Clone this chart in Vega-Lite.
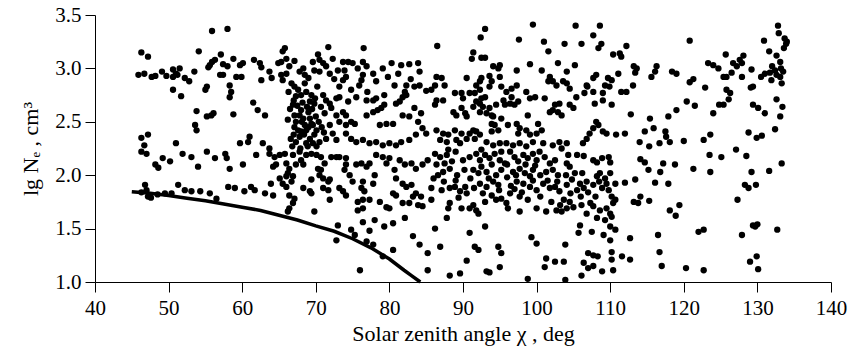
{
"$schema": "https://vega.github.io/schema/vega-lite/v6.json",
"width": 736, "height": 267,
"autosize": {"type": "none"},
"padding": {"left": 95, "top": 15, "right": 19, "bottom": 73},
"background": "white",
"config": {"view": {"stroke": null}},
"datasets": {
"curve": [{"x":45,"y":1.845},{"x":47.5,"y":1.83},{"x":50,"y":1.81},{"x":52.5,"y":1.785},{"x":55,"y":1.76},{"x":57.5,"y":1.73},{"x":60,"y":1.70},{"x":62.5,"y":1.67},{"x":65,"y":1.625},{"x":67.5,"y":1.58},{"x":70,"y":1.525},{"x":72.5,"y":1.475},{"x":75,"y":1.405},{"x":77.5,"y":1.32},{"x":80,"y":1.215},{"x":82,"y":1.11},{"x":83,"y":1.06},{"x":84.2,"y":1.0}],
"pts": [
{"x":55.9,"y":3.35},{"x":58.0,"y":3.37},{"x":46.3,"y":3.15},{"x":47.2,"y":3.11},{"x":54.1,"y":3.16},{"x":57.1,"y":3.13},{"x":55.6,"y":3.03},{"x":55.9,"y":3.06},{"x":56.3,"y":3.08},{"x":55.4,"y":3.01},{"x":57.4,"y":3.04},{"x":58.0,"y":3.02},{"x":45.9,"y":2.94},{"x":46.7,"y":2.95},{"x":47.7,"y":2.92},{"x":48.2,"y":2.93},{"x":49.1,"y":2.97},{"x":49.7,"y":2.93},{"x":50.6,"y":2.99},{"x":51.0,"y":2.95},{"x":51.5,"y":3.0},{"x":50.6,"y":2.92},{"x":51.2,"y":2.94},{"x":52.2,"y":2.91},{"x":52.8,"y":2.88},{"x":53.5,"y":2.97},{"x":57.0,"y":2.94},{"x":57.4,"y":2.94},{"x":55.2,"y":2.83},{"x":55.0,"y":2.80},{"x":50.6,"y":2.80},{"x":51.7,"y":2.74},{"x":53.8,"y":2.60},{"x":55.2,"y":2.55},{"x":55.8,"y":2.56},{"x":56.1,"y":2.58},{"x":53.6,"y":2.47},{"x":53.8,"y":2.42},{"x":46.3,"y":2.35},{"x":47.2,"y":2.38},{"x":46.7,"y":2.28},{"x":51.0,"y":2.30},
{"x":46.3,"y":2.22},{"x":47.0,"y":2.20},{"x":48.2,"y":2.10},{"x":48.6,"y":2.07},{"x":49.2,"y":2.16},{"x":50.2,"y":2.13},{"x":51.9,"y":2.20},{"x":53.1,"y":2.17},{"x":54.0,"y":2.08},{"x":55.2,"y":2.22},{"x":56.3,"y":2.16},{"x":57.7,"y":2.20},{"x":57.9,"y":2.16},
{"x":46.8,"y":1.91},{"x":47.0,"y":1.86},{"x":47.2,"y":1.80},{"x":46.3,"y":1.84},{"x":47.6,"y":1.79},{"x":48.5,"y":1.82},{"x":49.5,"y":1.83},{"x":50.4,"y":1.83},{"x":51.3,"y":1.91},{"x":52.2,"y":1.86},{"x":53.1,"y":1.85},{"x":54.3,"y":1.85},{"x":55.6,"y":1.83},{"x":56.5,"y":1.78},{"x":58.1,"y":1.89},
{"x":65.8,"y":3.19},{"x":65.5,"y":3.16},{"x":71.7,"y":3.20},{"x":76.5,"y":3.19},{"x":58.8,"y":3.09},{"x":60.1,"y":3.05},{"x":59.7,"y":3.03},{"x":61.6,"y":3.08},{"x":62.4,"y":3.05},{"x":62.6,"y":3.01},{"x":64.9,"y":3.05},{"x":65.3,"y":3.06},{"x":66.0,"y":3.09},{"x":66.4,"y":3.02},{"x":67.1,"y":3.07},{"x":66.0,"y":2.95},{"x":63.7,"y":2.97},{"x":64.0,"y":2.91},{"x":65.3,"y":2.94},{"x":65.5,"y":2.89},{"x":59.2,"y":2.92},{"x":59.9,"y":2.92},{"x":62.6,"y":2.89},{"x":67.8,"y":2.97},{"x":68.3,"y":3.0},{"x":68.5,"y":2.94},{"x":69.0,"y":2.91},{"x":69.6,"y":3.06},{"x":70.3,"y":3.13},{"x":70.5,"y":3.08},{"x":71.0,"y":3.05},{"x":71.4,"y":3.02},{"x":69.8,"y":2.98},{"x":70.5,"y":2.97},{"x":72.3,"y":3.09},{"x":71.9,"y":2.95},{"x":73.7,"y":3.06},{"x":74.4,"y":3.06},{"x":75.0,"y":3.05},{"x":73.9,"y":2.98},{"x":74.1,"y":2.92},{"x":73.7,"y":2.89},{"x":73.2,"y":2.83},{"x":75.7,"y":3.0},{"x":76.4,"y":3.06},{"x":76.9,"y":3.02},{"x":76.4,"y":2.94},{"x":76.2,"y":2.89},{"x":75.9,"y":2.84},{"x":77.8,"y":2.95},{"x":78.2,"y":2.88},{"x":79.1,"y":3.0},{"x":80.3,"y":3.05},{"x":81.6,"y":3.03},{"x":82.7,"y":3.04},{"x":83.9,"y":3.05},{"x":84.1,"y":2.97},{"x":80.7,"y":2.84},{"x":82.3,"y":2.84},{"x":82.1,"y":2.78},{"x":83.4,"y":2.83},{"x":84.1,"y":2.84},{"x":85.0,"y":2.79},{"x":58.3,"y":2.84},{"x":58.5,"y":2.78},{"x":66.7,"y":2.86},{"x":67.1,"y":2.83},{"x":67.6,"y":2.80},{"x":68.0,"y":2.75},{"x":68.5,"y":2.86},{"x":69.4,"y":2.75},{"x":69.2,"y":2.69},{"x":69.8,"y":2.67},{"x":71.0,"y":2.75},{"x":71.4,"y":2.70},{"x":71.9,"y":2.67},{"x":72.1,"y":2.63},{"x":66.9,"y":2.66},{"x":67.1,"y":2.56},{"x":68.0,"y":2.61},{"x":67.8,"y":2.56},{"x":68.3,"y":2.53},{"x":68.5,"y":2.47},{"x":68.7,"y":2.42},{"x":68.0,"y":2.41},{"x":69.0,"y":2.59},{"x":69.2,"y":2.53},{"x":69.4,"y":2.48},{"x":69.6,"y":2.47},{"x":70.1,"y":2.42},{"x":69.8,"y":2.38},{"x":69.2,"y":2.34},{"x":68.7,"y":2.30},{"x":67.3,"y":2.50},{"x":67.1,"y":2.45},{"x":67.6,"y":2.42},{"x":67.8,"y":2.36},{"x":67.3,"y":2.31},{"x":66.2,"y":2.52},{"x":61.5,"y":2.68},{"x":62.1,"y":2.61},{"x":63.1,"y":2.56},{"x":58.8,"y":2.57},{"x":70.7,"y":2.64},{"x":71.2,"y":2.58},{"x":72.8,"y":2.72},{"x":73.2,"y":2.73},{"x":74.4,"y":2.69},{"x":75.5,"y":2.73},{"x":76.9,"y":2.70},{"x":77.8,"y":2.70},{"x":78.2,"y":2.72},{"x":79.3,"y":2.75},{"x":72.8,"y":2.56},{"x":73.7,"y":2.59},{"x":74.1,"y":2.56},{"x":73.2,"y":2.50},{"x":74.1,"y":2.47},{"x":74.8,"y":2.50},{"x":75.3,"y":2.48},{"x":76.9,"y":2.56},{"x":77.8,"y":2.59},{"x":78.4,"y":2.61},{"x":78.9,"y":2.63},{"x":79.3,"y":2.66},{"x":79.6,"y":2.48},{"x":80.5,"y":2.48},{"x":78.7,"y":2.47},{"x":80.9,"y":2.67},{"x":81.4,"y":2.69},{"x":81.8,"y":2.73},{"x":82.3,"y":2.75},{"x":81.8,"y":2.56},{"x":82.7,"y":2.55},{"x":83.4,"y":2.63},{"x":84.3,"y":2.58},{"x":83.9,"y":2.50},{"x":84.5,"y":2.44},{"x":85.0,"y":2.39},{"x":83.6,"y":2.38},{"x":82.7,"y":2.33},{"x":81.6,"y":2.31},{"x":80.9,"y":2.28},{"x":71.9,"y":2.47},{"x":72.3,"y":2.39},{"x":71.4,"y":2.34},{"x":72.8,"y":2.33},{"x":74.1,"y":2.39},{"x":74.8,"y":2.34},{"x":75.5,"y":2.31},{"x":76.4,"y":2.33},{"x":77.3,"y":2.30},{"x":78.2,"y":2.31},{"x":79.1,"y":2.28},{"x":80.0,"y":2.30},{"x":61.0,"y":2.36},{"x":60.8,"y":2.31},{"x":62.8,"y":2.30},{"x":59.7,"y":2.30},{"x":63.7,"y":2.25},{"x":70.5,"y":2.31},{"x":70.1,"y":2.27},{"x":58.3,"y":2.73},
{"x":66.5,"y":2.62},{"x":67.0,"y":2.70},{"x":67.5,"y":2.65},{"x":68.2,"y":2.68},{"x":68.8,"y":2.64},{"x":69.5,"y":2.62},{"x":70.0,"y":2.55},{"x":70.4,"y":2.50},{"x":69.0,"y":2.45},{"x":68.4,"y":2.38},{"x":67.0,"y":2.38},{"x":66.6,"y":2.34},{"x":68.9,"y":2.27},{"x":69.6,"y":2.30},{"x":67.9,"y":2.25},{"x":66.8,"y":2.27},{"x":70.8,"y":2.45},{"x":71.1,"y":2.40},{"x":68.1,"y":2.50},{"x":69.9,"y":2.72},{"x":68.7,"y":2.78},{"x":67.3,"y":2.74},{"x":66.3,"y":2.78},{"x":70.2,"y":2.83},{"x":72.5,"y":2.90},{"x":73.0,"y":2.98},{"x":74.8,"y":2.80},{"x":77.0,"y":2.78},{"x":79.8,"y":2.92},{"x":81.2,"y":2.95},{"x":82.9,"y":2.90},
{"x":99.5,"y":3.41},{"x":93.0,"y":3.37},{"x":92.4,"y":3.29},{"x":97.6,"y":3.27},{"x":105.3,"y":3.40},{"x":108.6,"y":3.40},{"x":86.5,"y":3.21},{"x":107.7,"y":3.31},{"x":108.8,"y":3.23},{"x":108.4,"y":3.19},{"x":101.0,"y":3.25},{"x":101.6,"y":3.16},{"x":103.8,"y":3.23},{"x":106.1,"y":3.23},{"x":91.4,"y":3.15},{"x":91.2,"y":3.09},{"x":92.5,"y":3.10},{"x":93.0,"y":3.10},{"x":94.1,"y":3.02},{"x":95.0,"y":3.03},{"x":94.8,"y":3.0},{"x":97.3,"y":2.98},{"x":99.1,"y":3.04},{"x":100.7,"y":2.98},{"x":102.9,"y":3.05},{"x":104.1,"y":2.97},{"x":105.2,"y":3.03},{"x":110.4,"y":3.13},{"x":111.3,"y":3.14},{"x":111.5,"y":3.11},{"x":112.2,"y":3.21},{"x":111.1,"y":2.95},{"x":86.4,"y":2.92},{"x":87.1,"y":2.91},{"x":87.5,"y":2.84},{"x":86.2,"y":2.84},{"x":85.7,"y":2.80},{"x":90.5,"y":2.91},{"x":92.5,"y":2.91},{"x":92.3,"y":2.88},{"x":93.6,"y":2.93},{"x":93.9,"y":2.88},{"x":95.0,"y":2.92},{"x":93.6,"y":2.83},{"x":97.3,"y":2.84},{"x":96.6,"y":2.81},{"x":95.9,"y":2.78},{"x":95.2,"y":2.83},{"x":101.8,"y":2.92},{"x":102.2,"y":2.88},{"x":101.6,"y":2.88},{"x":102.7,"y":2.84},{"x":103.6,"y":2.88},{"x":104.1,"y":2.86},{"x":104.5,"y":2.81},{"x":106.8,"y":2.84},{"x":107.7,"y":2.91},{"x":108.1,"y":2.94},{"x":107.7,"y":2.78},{"x":109.0,"y":2.77},{"x":109.3,"y":2.84},{"x":109.9,"y":2.83},{"x":110.2,"y":2.89},{"x":109.7,"y":2.91},{"x":111.5,"y":2.78},{"x":112.2,"y":2.78},{"x":88.9,"y":2.77},{"x":89.8,"y":2.77},{"x":90.0,"y":2.72},{"x":90.9,"y":2.77},{"x":91.8,"y":2.84},{"x":91.6,"y":2.77},{"x":92.3,"y":2.80},{"x":92.5,"y":2.72},{"x":92.3,"y":2.67},{"x":93.0,"y":2.73},{"x":86.4,"y":2.70},{"x":86.2,"y":2.66},{"x":87.3,"y":2.70},{"x":88.7,"y":2.59},{"x":89.1,"y":2.56},{"x":89.8,"y":2.63},{"x":90.3,"y":2.58},{"x":90.5,"y":2.55},{"x":91.4,"y":2.64},{"x":91.8,"y":2.69},{"x":92.3,"y":2.59},{"x":92.7,"y":2.64},{"x":93.2,"y":2.58},{"x":93.6,"y":2.63},{"x":93.9,"y":2.56},{"x":94.5,"y":2.66},{"x":95.5,"y":2.70},{"x":96.4,"y":2.67},{"x":97.0,"y":2.66},{"x":95.7,"y":2.66},{"x":96.6,"y":2.73},{"x":97.5,"y":2.69},{"x":98.6,"y":2.78},{"x":99.1,"y":2.72},{"x":99.8,"y":2.73},{"x":101.1,"y":2.72},{"x":102.5,"y":2.66},{"x":103.1,"y":2.67},{"x":102.9,"y":2.59},{"x":101.8,"y":2.59},{"x":102.2,"y":2.61},{"x":104.5,"y":2.66},{"x":105.0,"y":2.63},{"x":105.4,"y":2.73},{"x":103.4,"y":2.56},{"x":106.5,"y":2.77},{"x":106.9,"y":2.83},{"x":107.9,"y":2.67},{"x":109.0,"y":2.70},{"x":110.2,"y":2.66},{"x":94.1,"y":2.55},{"x":95.2,"y":2.53},{"x":93.9,"y":2.48},{"x":94.3,"y":2.47},{"x":94.8,"y":2.42},{"x":93.9,"y":2.41},{"x":96.1,"y":2.47},{"x":97.3,"y":2.48},{"x":97.7,"y":2.44},{"x":97.5,"y":2.39},{"x":98.8,"y":2.56},{"x":100.2,"y":2.48},{"x":98.6,"y":2.42},{"x":99.1,"y":2.38},{"x":100.0,"y":2.39},{"x":100.7,"y":2.42},{"x":86.4,"y":2.42},{"x":87.3,"y":2.39},{"x":88.0,"y":2.38},{"x":88.9,"y":2.42},{"x":89.8,"y":2.39},{"x":90.9,"y":2.39},{"x":91.4,"y":2.42},{"x":91.8,"y":2.41},{"x":92.3,"y":2.38},{"x":91.6,"y":2.34},{"x":90.5,"y":2.34},{"x":89.1,"y":2.33},{"x":87.8,"y":2.31},{"x":86.9,"y":2.33},{"x":89.6,"y":2.30},{"x":93.2,"y":2.31},{"x":94.1,"y":2.28},{"x":95.0,"y":2.30},{"x":95.9,"y":2.30},{"x":96.8,"y":2.28},{"x":97.7,"y":2.30},{"x":98.6,"y":2.27},{"x":99.5,"y":2.31},{"x":100.9,"y":2.30},{"x":102.2,"y":2.28},{"x":103.1,"y":2.31},{"x":104.1,"y":2.30},{"x":106.3,"y":2.30},{"x":106.8,"y":2.34},{"x":107.2,"y":2.39},{"x":107.7,"y":2.44},{"x":108.1,"y":2.50},{"x":108.4,"y":2.47},{"x":109.0,"y":2.41},{"x":109.5,"y":2.39},{"x":110.8,"y":2.38},{"x":112.0,"y":2.39},
{"x":61.9,"y":2.19},{"x":63.7,"y":2.20},{"x":64.4,"y":2.17},{"x":65.1,"y":2.19},{"x":65.8,"y":2.20},{"x":66.9,"y":2.19},{"x":67.8,"y":2.22},{"x":68.7,"y":2.19},{"x":69.4,"y":2.20},{"x":70.1,"y":2.19},{"x":70.7,"y":2.17},{"x":72.1,"y":2.17},{"x":73.2,"y":2.17},{"x":74.1,"y":2.16},{"x":60.1,"y":2.10},{"x":58.3,"y":2.06},{"x":64.2,"y":2.08},{"x":64.6,"y":2.10},{"x":66.0,"y":2.11},{"x":66.4,"y":2.06},{"x":66.2,"y":2.02},{"x":67.3,"y":2.10},{"x":66.9,"y":1.99},{"x":66.0,"y":1.99},{"x":66.7,"y":1.94},{"x":68.0,"y":2.14},{"x":68.3,"y":2.10},{"x":70.3,"y":2.06},{"x":70.7,"y":2.05},{"x":70.5,"y":2.0},{"x":71.0,"y":1.97},{"x":71.2,"y":2.11},{"x":69.4,"y":1.96},{"x":71.9,"y":1.96},{"x":71.7,"y":1.94},{"x":63.9,"y":1.92},{"x":65.1,"y":1.97},{"x":65.5,"y":1.92},{"x":66.0,"y":1.89},{"x":59.0,"y":1.88},{"x":60.3,"y":1.85},{"x":61.2,"y":1.89},{"x":61.7,"y":1.86},{"x":63.1,"y":1.83},{"x":64.2,"y":1.81},{"x":68.3,"y":1.88},{"x":69.2,"y":1.85},{"x":69.4,"y":1.83},{"x":71.0,"y":1.88},{"x":71.7,"y":1.86},{"x":71.9,"y":1.77},{"x":66.4,"y":1.81},{"x":67.1,"y":1.78},{"x":66.9,"y":1.74},{"x":66.4,"y":1.69},{"x":66.2,"y":1.66},{"x":69.8,"y":1.66},{"x":72.8,"y":2.17},{"x":74.1,"y":2.10},{"x":73.9,"y":2.05},{"x":74.6,"y":2.0},{"x":75.0,"y":1.94},{"x":73.2,"y":1.88},{"x":73.7,"y":1.85},{"x":74.1,"y":1.81},{"x":75.5,"y":2.10},{"x":76.2,"y":2.11},{"x":76.9,"y":2.08},{"x":77.3,"y":2.11},{"x":78.0,"y":2.0},{"x":77.8,"y":1.92},{"x":76.4,"y":1.94},{"x":76.2,"y":1.88},{"x":76.6,"y":1.85},{"x":78.2,"y":2.19},{"x":79.1,"y":2.17},{"x":79.6,"y":2.11},{"x":80.0,"y":2.16},{"x":80.7,"y":2.05},{"x":80.9,"y":1.97},{"x":81.8,"y":1.92},{"x":82.3,"y":1.89},{"x":83.0,"y":1.91},{"x":83.6,"y":1.83},{"x":84.3,"y":1.80},{"x":84.5,"y":1.71},{"x":75.7,"y":1.75},{"x":76.4,"y":1.77},{"x":77.3,"y":1.77},{"x":75.7,"y":1.67},{"x":76.4,"y":1.69},{"x":78.7,"y":1.75},{"x":79.6,"y":1.70},{"x":80.0,"y":1.69},{"x":80.5,"y":1.83},{"x":80.9,"y":1.81},{"x":81.8,"y":1.74},{"x":82.7,"y":1.74},{"x":83.2,"y":1.80},{"x":83.9,"y":1.72},{"x":81.4,"y":2.14},{"x":82.1,"y":2.10},{"x":83.0,"y":2.11},{"x":83.6,"y":2.06},{"x":84.5,"y":2.10},{"x":85.2,"y":2.14},{"x":76.4,"y":1.56},{"x":78.0,"y":1.58},{"x":79.3,"y":1.52},{"x":77.3,"y":1.48},{"x":80.5,"y":1.55},{"x":73.0,"y":1.53},{"x":72.8,"y":1.39},{"x":74.8,"y":1.49},{"x":75.3,"y":1.44},{"x":76.9,"y":1.38},{"x":77.8,"y":1.35},{"x":80.5,"y":1.30},{"x":79.1,"y":1.24},{"x":82.1,"y":1.60},{"x":83.2,"y":1.43},{"x":84.1,"y":1.35},{"x":85.2,"y":1.27},{"x":85.2,"y":1.11},{"x":76.0,"y":1.11},
{"x":86.2,"y":2.20},{"x":86.9,"y":2.17},{"x":87.8,"y":2.19},{"x":86.4,"y":2.10},{"x":87.5,"y":2.11},{"x":88.2,"y":2.06},{"x":87.3,"y":2.03},{"x":86.0,"y":1.97},{"x":86.6,"y":2.0},{"x":85.7,"y":1.88},{"x":87.1,"y":1.86},{"x":88.2,"y":1.88},{"x":88.9,"y":1.89},{"x":89.6,"y":1.85},{"x":90.3,"y":1.89},{"x":90.5,"y":1.83},{"x":85.7,"y":1.77},{"x":88.2,"y":1.74},{"x":88.0,"y":1.69},{"x":89.8,"y":1.69},{"x":87.8,"y":1.60},{"x":86.2,"y":1.50},{"x":90.0,"y":2.14},{"x":90.9,"y":2.17},{"x":91.8,"y":2.20},{"x":92.3,"y":2.14},{"x":93.0,"y":2.19},{"x":93.6,"y":2.16},{"x":94.3,"y":2.20},{"x":95.0,"y":2.14},{"x":95.2,"y":2.22},{"x":91.4,"y":2.05},{"x":92.1,"y":2.02},{"x":92.5,"y":2.08},{"x":93.2,"y":2.03},{"x":93.9,"y":2.10},{"x":94.5,"y":2.0},{"x":95.2,"y":2.05},{"x":95.7,"y":2.11},{"x":92.3,"y":1.92},{"x":93.2,"y":1.89},{"x":94.1,"y":1.94},{"x":94.8,"y":1.91},{"x":92.7,"y":1.83},{"x":93.9,"y":1.81},{"x":94.5,"y":1.77},{"x":95.2,"y":1.78},{"x":95.9,"y":1.74},{"x":96.1,"y":1.69},{"x":91.4,"y":1.72},{"x":91.8,"y":1.67},{"x":90.9,"y":1.69},{"x":92.1,"y":1.64},{"x":96.4,"y":2.22},{"x":97.0,"y":2.17},{"x":97.5,"y":2.13},{"x":98.2,"y":2.19},{"x":98.8,"y":2.16},{"x":99.5,"y":2.20},{"x":100.0,"y":2.14},{"x":96.8,"y":2.03},{"x":97.7,"y":2.06},{"x":98.4,"y":2.02},{"x":99.1,"y":1.99},{"x":99.5,"y":2.05},{"x":97.3,"y":1.94},{"x":98.2,"y":1.92},{"x":99.1,"y":1.89},{"x":100.0,"y":1.86},{"x":96.4,"y":1.83},{"x":97.7,"y":1.80},{"x":98.8,"y":1.77},{"x":100.0,"y":1.69},{"x":97.7,"y":1.66},{"x":101.3,"y":1.66},{"x":100.4,"y":2.22},{"x":101.1,"y":2.17},{"x":101.8,"y":2.11},{"x":102.5,"y":2.14},{"x":102.2,"y":2.05},{"x":102.9,"y":2.0},{"x":100.9,"y":1.92},{"x":101.8,"y":1.88},{"x":102.5,"y":1.89},{"x":103.1,"y":1.85},{"x":102.7,"y":1.67},{"x":101.3,"y":1.22},{"x":102.5,"y":1.19},{"x":101.1,"y":1.14},{"x":99.3,"y":1.42},{"x":100.0,"y":1.36},{"x":98.8,"y":1.03},{"x":90.9,"y":1.46},{"x":93.0,"y":1.52},{"x":91.6,"y":1.33},{"x":92.1,"y":1.30},{"x":94.8,"y":1.33},{"x":95.2,"y":1.27},{"x":90.5,"y":1.20},{"x":93.6,"y":1.09},{"x":93.2,"y":1.10},{"x":95.0,"y":1.14},{"x":86.9,"y":1.33},{"x":88.2,"y":1.06},{"x":89.6,"y":1.08},
{"x":88.5,"y":2.13},{"x":89.2,"y":2.00},{"x":89.0,"y":1.95},{"x":90.2,"y":2.05},{"x":91.0,"y":1.97},{"x":91.5,"y":1.88},{"x":93.5,"y":1.97},{"x":96.0,"y":1.98},{"x":96.5,"y":1.90},{"x":97.0,"y":1.87},{"x":98.0,"y":1.84},{"x":99.5,"y":1.95},{"x":100.5,"y":2.00},{"x":101.3,"y":2.03},{"x":101.5,"y":1.95},{"x":99.8,"y":2.09},{"x":97.2,"y":2.00},{"x":94.9,"y":1.86},{"x":93.0,"y":1.75},{"x":89.4,"y":1.79},{"x":87.4,"y":1.94},{"x":88.0,"y":2.24},{"x":89.0,"y":2.22},{"x":92.5,"y":2.24},{"x":96.0,"y":2.10},{"x":98.5,"y":2.10},{"x":100.5,"y":1.80},{"x":102.0,"y":1.75},{"x":102.8,"y":1.94},
{"x":120.8,"y":3.26},{"x":132.8,"y":3.40},{"x":130.9,"y":3.26},{"x":131.6,"y":3.16},{"x":132.6,"y":3.12},{"x":133.7,"y":3.28},{"x":133.9,"y":3.23},{"x":133.6,"y":3.19},{"x":133.1,"y":3.06},{"x":133.2,"y":3.00},{"x":131.0,"y":2.95},{"x":131.7,"y":2.96},{"x":132.4,"y":2.98},{"x":132.6,"y":2.94},{"x":133.1,"y":2.92},{"x":131.9,"y":2.89},{"x":133.3,"y":2.86},{"x":125.7,"y":3.13},{"x":126.7,"y":3.05},{"x":127.2,"y":3.02},{"x":127.9,"y":3.05},{"x":128.1,"y":3.12},{"x":127.6,"y":3.08},{"x":129.2,"y":2.99},{"x":127.9,"y":2.92},{"x":126.5,"y":2.96},{"x":125.4,"y":2.92},{"x":125.8,"y":2.92},{"x":123.3,"y":3.05},{"x":124.0,"y":3.03},{"x":124.7,"y":3.0},{"x":121.3,"y":2.90},{"x":120.8,"y":2.87},{"x":122.9,"y":2.82},{"x":125.8,"y":2.80},{"x":126.3,"y":2.77},{"x":126.1,"y":2.71},{"x":129.4,"y":2.83},{"x":129.1,"y":2.82},{"x":132.6,"y":2.71},{"x":133.4,"y":2.64},{"x":133.1,"y":2.55},{"x":131.0,"y":2.58},{"x":129.4,"y":2.66},{"x":130.1,"y":2.63},{"x":120.4,"y":2.69},{"x":121.5,"y":2.65},{"x":119.0,"y":2.61},{"x":124.8,"y":2.66},{"x":125.4,"y":2.66},{"x":124.0,"y":2.58},{"x":132.4,"y":2.43},{"x":130.6,"y":2.37},{"x":129.9,"y":2.35},{"x":128.8,"y":2.40},{"x":123.6,"y":2.38},{"x":122.7,"y":2.33},{"x":127.1,"y":2.24},{"x":123.5,"y":2.19},{"x":125.1,"y":2.17},{"x":128.5,"y":2.18},{"x":133.3,"y":2.11},{"x":121.3,"y":2.06},{"x":117.9,"y":2.55},{"x":115.4,"y":2.53},{"x":115.9,"y":2.44},{"x":114.7,"y":2.41},{"x":114.0,"y":2.31},{"x":115.3,"y":2.27},{"x":116.7,"y":2.30},{"x":117.5,"y":2.41},{"x":118.1,"y":2.31},{"x":117.6,"y":2.36},{"x":120.0,"y":2.32},{"x":118.8,"y":2.10},{"x":114.1,"y":2.15},{"x":114.7,"y":2.12},{"x":117.2,"y":2.11},{"x":112.8,"y":2.57},{"x":113.2,"y":3.02},{"x":113.6,"y":3.0},{"x":113.4,"y":2.96},{"x":116.3,"y":3.02},{"x":116.1,"y":2.97},{"x":115.6,"y":2.92},{"x":118.4,"y":2.97},{"x":119.0,"y":2.95},{"x":113.1,"y":2.84},{"x":132.0,"y":3.02},{"x":133.5,"y":2.97},{"x":130.5,"y":2.92},{"x":132.9,"y":3.33},{"x":134.0,"y":3.25},
{"x":104.3,"y":2.19},{"x":105.5,"y":2.19},{"x":106.4,"y":2.18},{"x":107.7,"y":2.14},{"x":108.2,"y":2.12},{"x":108.9,"y":2.16},{"x":109.8,"y":2.17},{"x":110.0,"y":2.12},{"x":104.1,"y":2.11},{"x":104.5,"y":2.08},{"x":103.4,"y":2.25},
{"x":105.2,"y":2.02},{"x":104.8,"y":1.96},{"x":104.1,"y":1.91},{"x":104.6,"y":1.83},{"x":105.5,"y":1.86},{"x":106.4,"y":1.88},{"x":105.9,"y":1.92},{"x":106.8,"y":1.94},{"x":107.7,"y":1.91},{"x":108.2,"y":1.99},{"x":108.6,"y":2.02},{"x":109.3,"y":1.97},{"x":110.0,"y":2.02},{"x":109.5,"y":1.92},{"x":108.9,"y":1.88},{"x":109.8,"y":1.86},{"x":110.2,"y":1.80},{"x":110.7,"y":1.77},{"x":103.7,"y":1.77},{"x":103.2,"y":1.72},{"x":104.1,"y":1.69},{"x":103.4,"y":1.66},{"x":106.1,"y":1.72},{"x":107.3,"y":1.74},{"x":107.7,"y":1.71},{"x":106.8,"y":1.64},{"x":108.2,"y":1.60},{"x":108.6,"y":1.67},{"x":109.5,"y":1.69},{"x":110.0,"y":1.64},{"x":109.3,"y":1.58},{"x":110.2,"y":1.61},{"x":110.4,"y":1.74},{"x":110.7,"y":1.92},{"x":112.0,"y":1.93},{"x":113.4,"y":1.96},{"x":114.1,"y":1.80},{"x":113.2,"y":1.75},{"x":113.8,"y":1.74},{"x":115.3,"y":1.76},{"x":116.1,"y":1.93},{"x":117.9,"y":1.92},{"x":118.1,"y":1.67},{"x":118.9,"y":1.62},{"x":119.4,"y":1.72},{"x":105.9,"y":1.53},{"x":105.7,"y":1.46},{"x":107.5,"y":1.47},{"x":109.1,"y":1.44},{"x":110.0,"y":1.52},{"x":110.7,"y":1.49},{"x":110.0,"y":1.39},{"x":112.7,"y":1.41},{"x":103.9,"y":1.35},{"x":116.5,"y":1.44},{"x":116.7,"y":1.28},{"x":117.0,"y":1.15},{"x":107.0,"y":1.27},{"x":107.7,"y":1.25},{"x":108.3,"y":1.24},{"x":106.4,"y":1.18},{"x":107.0,"y":1.13},{"x":107.7,"y":1.15},{"x":108.9,"y":1.10},{"x":110.2,"y":1.28},{"x":110.2,"y":1.21},{"x":110.4,"y":1.11},{"x":111.6,"y":1.24},{"x":112.7,"y":1.21},{"x":106.1,"y":1.06},{"x":103.7,"y":1.19},{"x":103.9,"y":1.02},{"x":120.3,"y":1.13},{"x":122.7,"y":1.11},{"x":122.0,"y":1.47},{"x":122.7,"y":1.49},{"x":128.3,"y":1.91},{"x":128.8,"y":1.88},{"x":129.8,"y":1.91},{"x":127.3,"y":1.77},{"x":127.9,"y":1.44},{"x":129.4,"y":1.53},{"x":130.0,"y":1.54},{"x":129.7,"y":1.52},{"x":132.7,"y":1.49},{"x":129.0,"y":1.19},{"x":129.9,"y":1.24},{"x":130.1,"y":1.12},{"x":129.2,"y":2.03},{"x":131.6,"y":2.04},{"x":115.2,"y":2.05},{"x":116.8,"y":2.03},{"x":123.6,"y":2.03},
{"x":104.5,"y":1.75},{"x":105.0,"y":1.70},{"x":106.0,"y":1.80},{"x":107.0,"y":1.84},{"x":108.0,"y":1.80},{"x":108.5,"y":1.94},{"x":104.0,"y":2.00},{"x":106.2,"y":2.02}
]},
"layer": [
 {"data": {"name": "pts"},
  "mark": {"type": "circle", "size": 40, "color": "black", "opacity": 1, "clip": false},
  "encoding": {
   "x": {"field": "x", "type": "quantitative", "scale": {"domain": [40, 140], "nice": false, "zero": false},
     "axis": {"orient": "bottom", "grid": false, "tickColor": "black", "tickSize": 10, "domainColor": "black",
       "values": [40,45,50,55,60,65,70,75,80,85,90,95,100,105,110,115,120,125,130,135,140],
       "labelExpr": "datum.value % 10 === 0 ? datum.label : ''",
       "labelColor": "black", "labelFont": "Liberation Serif", "labelFontSize": 21, "labelPadding": 5, "labelFlush": false, "labelOverlap": false,
       "title": "Solar zenith angle χ , deg", "titleColor": "black", "titleFont": "Liberation Serif", "titleFontWeight": "normal", "titleFontSize": 22, "titlePadding": 5}},
   "y": {"field": "y", "type": "quantitative", "scale": {"domain": [1.0, 3.5], "nice": false, "zero": false},
     "axis": {"orient": "left", "grid": false, "tickColor": "black", "tickSize": 10, "domainColor": "black",
       "values": [1.0,1.25,1.5,1.75,2.0,2.25,2.5,2.75,3.0,3.25,3.5], "format": ".1f",
       "labelExpr": "(datum.value * 4) % 2 === 0 ? datum.label : ''",
       "labelColor": "black", "labelFont": "Liberation Serif", "labelFontSize": 21, "labelPadding": 4, "labelFlush": false, "labelOverlap": false,
       "title": "lg Nₑ , cm³", "titleColor": "black", "titleFont": "Liberation Serif", "titleFontWeight": "normal", "titleFontSize": 22, "titlePadding": 12}}
  }},
 {"data": {"name": "curve"},
  "mark": {"type": "line", "color": "black", "strokeWidth": 3.5, "clip": false},
  "encoding": {
   "x": {"field": "x", "type": "quantitative"},
   "y": {"field": "y", "type": "quantitative"}
  }}
]
}
